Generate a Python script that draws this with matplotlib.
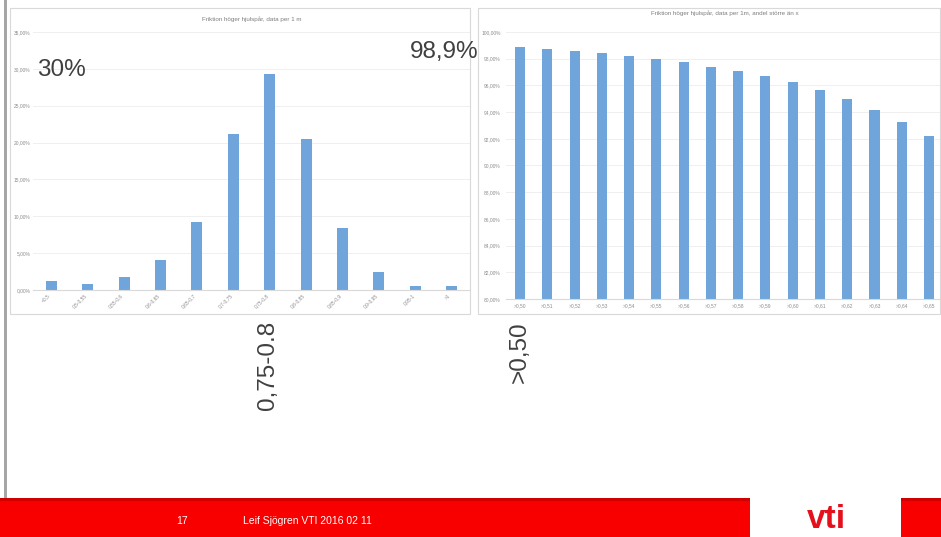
import matplotlib
matplotlib.use("Agg")
import matplotlib.pyplot as plt
from matplotlib.patches import Rectangle
from matplotlib.ticker import FuncFormatter

plt.rcParams['font.family'] = ['Liberation Sans', 'DejaVu Sans']

# Vänster diagram: fördelning av friktion (andel per klass)
klasser = ["<0,5", "0,5-0,55", "0,55-0,6", "0,6-0,65", "0,65-0,7", "0,7-0,75",
           "0,75-0,8", "0,8-0,85", "0,85-0,9", "0,9-0,95", "0,95-1", ">1"]
andel = [1.2, 0.8, 1.8, 4.1, 9.2, 21.1, 29.3, 20.5, 8.4, 2.4, 0.5, 0.5]
vanster_titel = "Friktion höger hjulspår, data per 1 m"

# Höger diagram: andel större än x (kumulativ)
grans = [">0,50", ">0,51", ">0,52", ">0,53", ">0,54", ">0,55", ">0,56", ">0,57",
         ">0,58", ">0,59", ">0,60", ">0,61", ">0,62", ">0,63", ">0,64", ">0,65"]
andel_over = [98.9, 98.7, 98.55, 98.45, 98.2, 97.95, 97.75, 97.4,
              97.05, 96.7, 96.25, 95.65, 94.95, 94.15, 93.25, 92.2]
hoger_titel = "Friktion höger hjulspår, data per 1m, andel större än x"

bar_color = "#6FA5DB"
grid_color = "#ECECEC"
tick_color = "#8C8C8C"

fig = plt.figure(figsize=(9.41, 5.37), dpi=100)
W, H = 941, 537

def fx(x):
    return x / W

def fy(y):
    return 1 - y / H

# ram runt diagrammen
fig.patches.append(Rectangle((fx(10), fy(314)), fx(460), 306 / H, transform=fig.transFigure,
                             fill=False, edgecolor="#D9D9D9", lw=0.8))
fig.patches.append(Rectangle((fx(478), fy(314)), fx(462), 306 / H, transform=fig.transFigure,
                             fill=False, edgecolor="#D9D9D9", lw=0.8))
# grå kant till vänster på bilden
fig.patches.append(Rectangle((fx(4), fy(530)), fx(3), 530 / H, transform=fig.transFigure,
                             facecolor="#A6A6A6", edgecolor="none"))

pct = FuncFormatter(lambda v, p: f"{v:.2f}%".replace(".", ","))

# --- vänster diagram ---
ax1 = fig.add_axes([fx(33), fy(290), fx(437), 258 / H])
ax1.bar(range(len(klasser)), andel, width=0.3, color=bar_color)
ax1.set_xlim(-0.5, len(klasser) - 0.5)
ax1.set_ylim(0, 35)
ax1.set_yticks(range(0, 36, 5))
ax1.yaxis.set_major_formatter(pct)
ax1.set_xticks(range(len(klasser)))
ax1.set_xticklabels(klasser, rotation=45, ha="right", fontsize=3.5, color=tick_color)
ax1.tick_params(axis="y", labelsize=3.5, labelcolor=tick_color, length=0, pad=2)
ax1.tick_params(axis="x", length=0, pad=2)
ax1.grid(axis="y", color=grid_color, lw=0.6)
ax1.set_axisbelow(True)
for s in ax1.spines.values():
    s.set_visible(False)
ax1.spines["bottom"].set_visible(True)
ax1.spines["bottom"].set_color("#D9D9D9")
ax1.set_title(vanster_titel, fontsize=4.5, color="#7F7F7F", pad=8)

# --- höger diagram ---
ax2 = fig.add_axes([fx(506.4), fy(299), fx(436.3), 267 / H])
ax2.bar(range(len(grans)), andel_over, width=0.37, color=bar_color)
ax2.set_xlim(-0.5, len(grans) - 0.5)
ax2.set_ylim(80, 100)
ax2.set_yticks(range(80, 101, 2))
ax2.yaxis.set_major_formatter(pct)
ax2.set_xticks(range(len(grans)))
ax2.set_xticklabels(grans, fontsize=3.5, color=tick_color)
ax2.tick_params(axis="y", labelsize=3.5, labelcolor=tick_color, length=0, pad=4)
ax2.tick_params(axis="x", length=0, pad=3)
ax2.grid(axis="y", color=grid_color, lw=0.6)
ax2.set_axisbelow(True)
for s in ax2.spines.values():
    s.set_visible(False)
ax2.spines["bottom"].set_visible(True)
ax2.spines["bottom"].set_color("#D9D9D9")
ax2.set_title(hoger_titel, fontsize=4.5, color="#7F7F7F", pad=12)

# --- stora annoteringar ---
fig.text(fx(37), fy(70), "30%", fontsize=17.5, color="#404040", va="center", ha="left")
fig.text(fx(410), fy(52), "98,9%", fontsize=17.5, color="#404040", va="center", ha="left")
fig.text(fx(268), fy(365), "0,75-0.8", fontsize=17.5, color="#404040", rotation=90,
         va="center", ha="center")
fig.text(fx(520), fy(352), ">0,50", fontsize=17.5, color="#404040", rotation=90,
         va="center", ha="center")

# --- sidfot ---
fig.patches.append(Rectangle((0, 0), 1, 39 / H, transform=fig.transFigure,
                             facecolor="#F80000", edgecolor="none"))
fig.patches.append(Rectangle((0, 36 / H), 1, 3 / H, transform=fig.transFigure,
                             facecolor="#D00000", edgecolor="none"))
fig.patches.append(Rectangle((fx(750), 0), fx(151), 45 / H, transform=fig.transFigure,
                             facecolor="white", edgecolor="none"))
fig.text(fx(826), fy(528), "vti", fontsize=24, fontweight="bold", color="#E4101C",
         ha="center", va="baseline")
fig.text(fx(176), fy(521), "17", fontsize=7.5, color="white", va="center", ha="left")
fig.text(fx(243), fy(521), "Leif Sjögren VTI 2016 02 11", fontsize=7.5, color="white",
         va="center", ha="left")

fig.savefig("out.png", dpi=100)
